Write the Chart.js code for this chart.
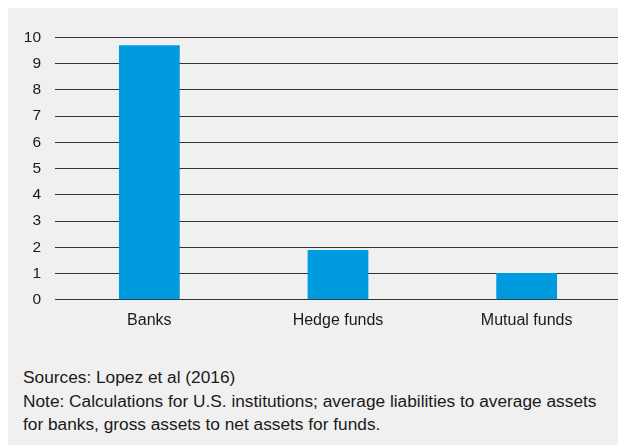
<!DOCTYPE html>
<html>
<head>
<meta charset="utf-8">
<script src="https://cdn.jsdelivr.net/npm/chart.js@4.4.1/dist/chart.umd.min.js"></script>
<style>
  html, body { margin: 0; padding: 0; background: #fff; overflow: hidden; }
  #box {
    position: absolute; left: 8px; top: 8px; width: 620px; height: 445px;
    background: #f0f0f0; overflow: hidden;
  }
  #wrap { position: absolute; left: -8px; top: -8px; width: 621px; height: 341px; }
  #notes {
    position: absolute; left: 15px; top: 358px; width: 610px;
    font-family: "Liberation Sans", Arial, sans-serif; font-size: 17.3px;
    line-height: 23.5px; color: #1a1a1a; white-space: nowrap;
  }
</style>
</head>
<body>
<div id="box">
  <div id="wrap"><canvas id="leverageChart"></canvas></div>
  <div id="notes">
    Sources: Lopez et al (2016)<br>
    Note: Calculations for U.S. institutions; average liabilities to average assets<br>
    for banks, gross assets to net assets for funds.
  </div>
</div>
<script>
const categories = ["Banks", "Hedge funds", "Mutual funds"];
const leverage = [9.7, 1.9, 1.02];
const yTicks = [0, 1, 2, 3, 4, 5, 6, 7, 8, 9, 10];

const canvas = document.getElementById("leverageChart");
const ctx = canvas.getContext("2d");

new Chart(ctx, {
    type: "bar",
    data: {
        labels: categories,
        datasets: [{
            data: leverage,
            backgroundColor: "#009ade",
            borderWidth: 0,
            barPercentage: 0.644,
            categoryPercentage: 0.5
        }]
    },
    options: {
        responsive: true,
        maintainAspectRatio: false,
        animation: false,
        layout: { padding: { top: 37.5, left: 0, right: 0, bottom: 0 } },
        plugins: {
            legend: { display: false },
            tooltip: { enabled: false }
        },
        scales: {
            x: {
                grid: { display: false, drawTicks: false },
                border: { display: false },
                ticks: {
                    padding: 11,
                    color: "#1a1a1a",
                    font: { family: "'Liberation Sans', Arial, sans-serif", size: 16 }
                }
            },
            y: {
                min: 0,
                max: 10,
                afterBuildTicks: (axis) => { axis.ticks = yTicks.map(v => ({ value: v })); },
                afterFit: (axis) => { axis.width = 55; },
                grid: { color: "#333", lineWidth: 1, drawTicks: false },
                border: { display: false },
                ticks: {
                    padding: 14,
                    color: "#1a1a1a",
                    font: { family: "'Liberation Sans', Arial, sans-serif", size: 15.5 }
                }
            }
        }
    }
});
</script>
</body>
</html>
